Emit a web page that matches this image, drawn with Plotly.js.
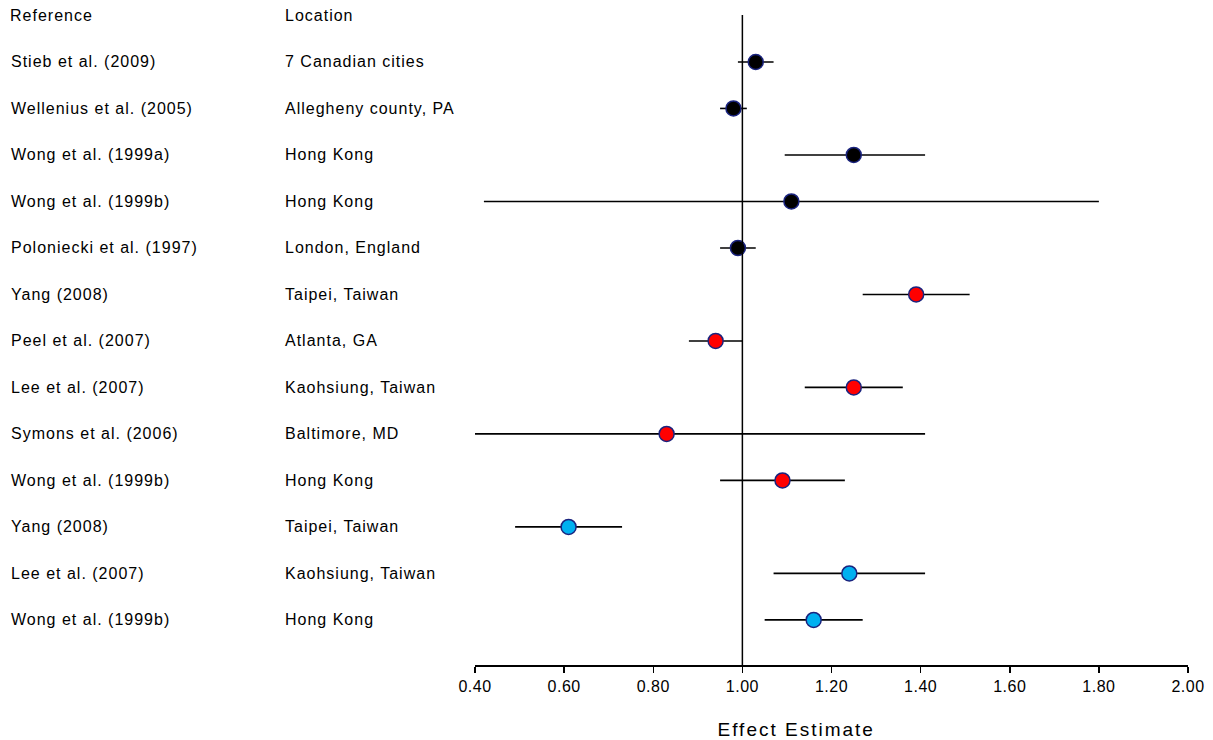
<!DOCTYPE html>
<html>
<head>
<meta charset="utf-8">
<script src="https://cdn.plot.ly/plotly-3.0.1.min.js"></script>
<style>
html,body{margin:0;padding:0;background:#fff;}
#chart{width:1213px;height:740px;}
.annotation-text{letter-spacing:1px;}
.annotation[data-index="28"] .annotation-text{letter-spacing:2px;}
.xtick text{letter-spacing:0.5px;}
</style>
</head>
<body>
<div id="chart"></div>
<script>
const references = ["Stieb et al. (2009)","Wellenius et al. (2005)","Wong et al. (1999a)","Wong et al. (1999b)","Poloniecki et al. (1997)","Yang (2008)","Peel et al. (2007)","Lee et al. (2007)","Symons et al. (2006)","Wong et al. (1999b)","Yang (2008)","Lee et al. (2007)","Wong et al. (1999b)"];
const locations = ["7 Canadian cities","Allegheny county, PA","Hong Kong","Hong Kong","London, England","Taipei, Taiwan","Atlanta, GA","Kaohsiung, Taiwan","Baltimore, MD","Hong Kong","Taipei, Taiwan","Kaohsiung, Taiwan","Hong Kong"];
const estimates = [1.03,0.98,1.25,1.11,0.99,1.39,0.94,1.25,0.83,1.09,0.61,1.24,1.16];
const lower = [0.99,0.95,1.095,0.42,0.95,1.27,0.88,1.14,0.40,0.95,0.49,1.07,1.05];
const upper = [1.07,1.01,1.41,1.80,1.03,1.51,1.00,1.36,1.41,1.23,0.73,1.41,1.27];
const groups = [0,0,0,0,0,1,1,1,1,1,2,2,2];
const groupColors = ["#000000","#FF0000","#00B0F0"];
const xTicks = [0.4,0.6,0.8,1.0,1.2,1.4,1.6,1.8,2.0];

const traces = [];
groupColors.forEach((col, g) => {
  const idx = estimates.map((_, i) => i).filter(i => groups[i] === g);
  traces.push({
    type: "scatter", mode: "markers",
    x: idx.map(i => estimates[i]),
    y: idx.map(i => i),
    error_x: {type: "data", symmetric: false,
      array: idx.map(i => upper[i] - estimates[i]),
      arrayminus: idx.map(i => estimates[i] - lower[i]),
      width: 0, thickness: 1.6, color: "#000000"},
    marker: {size: 15, color: col, line: {color: "#1a237e", width: 1.5}},
    hoverinfo: "x", showlegend: false
  });
});

const L = 475, W = 713;
const px = p => (p - L) / W;
const font = {family: "Liberation Sans, Arial, sans-serif", size: 16, color: "#000"};
const annotations = [];
annotations.push({xref: "paper", yref: "y", x: px(8), y: -1, text: "Reference", showarrow: false, xanchor: "left", yanchor: "middle", font: font});
annotations.push({xref: "paper", yref: "y", x: px(283), y: -1, text: "Location", showarrow: false, xanchor: "left", yanchor: "middle", font: font});
references.forEach((r, i) => {
  annotations.push({xref: "paper", yref: "y", x: px(9), y: i, text: r, showarrow: false, xanchor: "left", yanchor: "middle", font: font});
  annotations.push({xref: "paper", yref: "y", x: px(283), y: i, text: locations[i], showarrow: false, xanchor: "left", yanchor: "middle", font: font});
});
annotations.push({xref: "paper", yref: "paper", x: px(796), y: 0, yshift: -64, text: "Effect Estimate", showarrow: false, xanchor: "center", yanchor: "middle", font: {family: font.family, size: 19, color: "#000"}});

const layout = {
  width: 1213, height: 740,
  margin: {l: 475, r: 25, t: 15, b: 75},
  paper_bgcolor: "#fff", plot_bgcolor: "#fff",
  xaxis: {range: [0.4, 2.0], tickvals: xTicks, ticktext: xTicks.map(v => v.toFixed(2)),
    showgrid: false, zeroline: false, showline: true, linecolor: "#000", linewidth: 1.5,
    ticks: "outside", ticklen: 6, tickwidth: 1.5, tickcolor: "#000",
    tickfont: {family: font.family, size: 16, color: "#000"}},
  yaxis: {range: [12.97, -1.01], visible: false, showgrid: false, zeroline: false},
  shapes: [{type: "line", xref: "x", yref: "paper", x0: 1, x1: 1, y0: 0, y1: 1, line: {color: "#000", width: 1.5}}],
  annotations: annotations
};
Plotly.newPlot("chart", traces, layout, {staticPlot: true});
</script>
</body>
</html>
